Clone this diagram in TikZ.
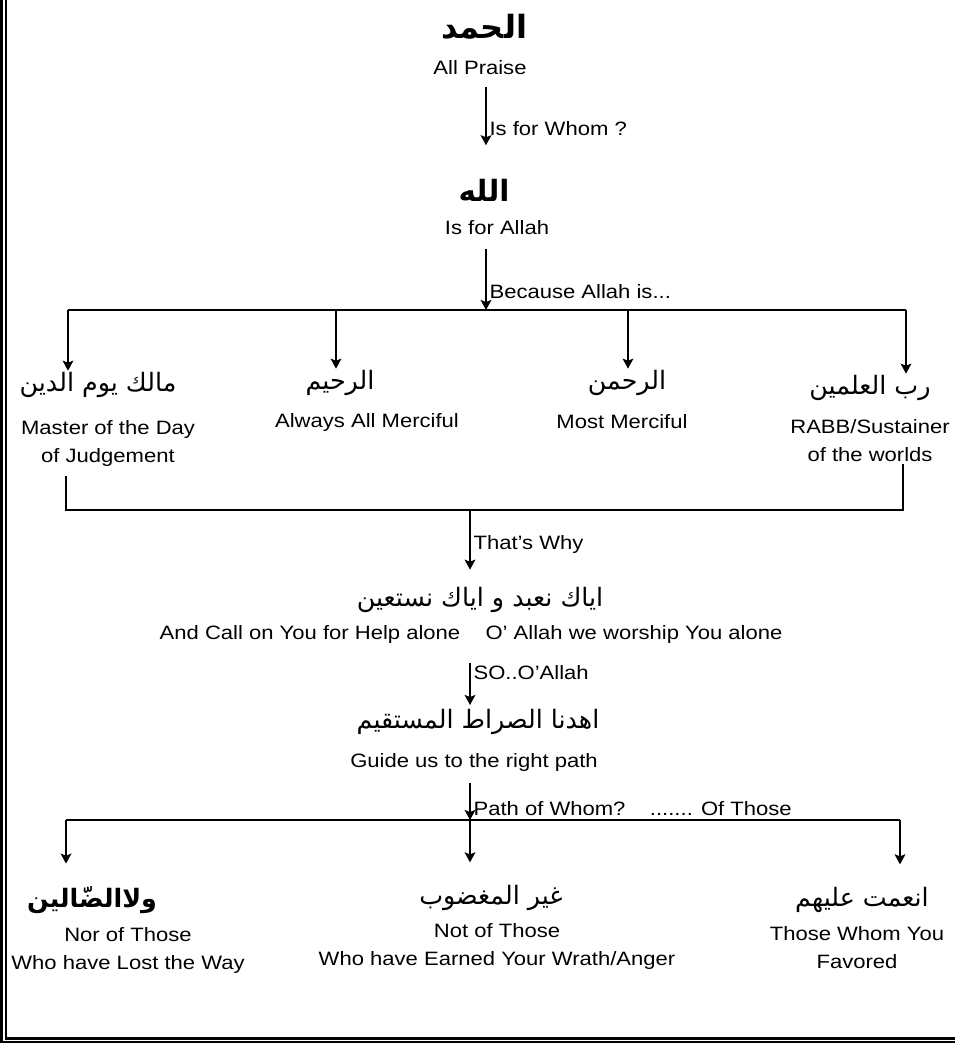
\documentclass[tikz,border=0pt]{standalone}
\usepackage{fontspec}
\usetikzlibrary{arrows.meta}
\setmainfont{Liberation Sans}[FakeStretch=1.14]
\newfontfamily\arabicfont[Script=Arabic]{DejaVu Sans}
\TeXXeTstate=1
\tikzset{
  gloss/.style={font=\fontsize{14.5}{21}\selectfont, inner sep=1pt, align=center},
  arab/.style={font=\arabicfont\fontsize{19}{22}\selectfont, inner sep=1pt},
  arabbig/.style={font=\arabicfont\bfseries\fontsize{24}{28}\selectfont, inner sep=1pt},
  lbl/.style={font=\fontsize{14.5}{17}\selectfont, inner sep=2pt},
  link/.style={->, line width=1.4pt},
  bar/.style={line width=1.4pt}
}
\begin{document}
\begin{tikzpicture}[x=0.75pt, y=-0.75pt, >={Stealth[length=7.5pt, width=8pt, inset=1.5pt]}]
\useasboundingbox (0,0) rectangle (955,1043);

% frame
\draw[line width=2pt] (1.3,0) -- (1.3,1042.3) -- (955,1042.3);
\draw[line width=1.6pt] (5.7,0) -- (5.7,1038.5) -- (955,1038.5);

% stems and bars
\coordinate (up) at (486,0);
\coordinate (low) at (470,0);
\coordinate (barA) at (68,310);
\coordinate (barB) at (906,310);
\coordinate (brL) at (66,510);
\coordinate (brR) at (903,510);
\coordinate (barC) at (66,820);
\coordinate (barD) at (900,820);

% praise
\node[arabbig] (hamd) at (484,27) {\beginR الحمد\endR};
\node[gloss] (praise) at (480,68) {All Praise};
\node[arabbig, font=\arabicfont\bfseries\fontsize{22}{26}\selectfont] (allah) at (484,190) {\beginR الله\endR};
\node[gloss] (allahEn) at (497,228) {Is for Allah};

\draw[link, shorten <=8pt, shorten >=24pt] (praise.south -| up) -- (allah.north -| up)
  node[lbl, pos=.52, right] (whom) {Is for Whom ?};
\draw[link, shorten <=9pt] (allahEn.south -| up) -- (up |- barA)
  node[lbl, pos=.75, right] (because) {Because Allah is...};
\draw[bar] (barA) -- (barB);

% names
\node[arab] (n1) at (98,385) {\beginR مالك يوم الدين\endR};
\node[arab] (n2) at (340,383) {\beginR الرحيم\endR};
\node[arab] (n3) at (627,383) {\beginR الرحمن\endR};
\node[arab] (n4) at (870,388) {\beginR رب العلمين\endR};
\node[gloss] (e1) at (108,443) {Master of the Day\\of Judgement};
\node[gloss] (e2) at (367,422) {Always All Merciful};
\node[gloss] (e3) at (622,422) {Most Merciful};
\node[gloss] (e4) at (870,441) {RABB/Sustainer\\of the worlds};

\foreach \x [count=\i] in {68,336,628,906} {
  \coordinate (b\i) at (\x,310);
  \draw[link] (b\i) -- (b\i |- n\i.north);
}

% that's why
\draw[bar, shorten <=6pt] (e1.south -| brL) -- (brL) -- (brR) -- (e4.south -| brR);
\node[arab] (iyyaka) at (480,600) {\beginR اياك نعبد و اياك نستعين\endR};
\node[gloss] (callEn) at (310,634) {And Call on You for Help alone};
\node[gloss] (worshipEn) at (634,634) {O' Allah we worship You alone};
\draw[link, shorten >=12pt] (low |- brL) -- (low |- iyyaka.north)
  node[lbl, pos=.45, right] (why) {That's Why};

% guide
\node[arab] (ihdina) at (478,722) {\beginR اهدنا الصراط المستقيم\endR};
\node[gloss] (guide) at (474,762) {Guide us to the right path};
\draw[link, shorten <=14pt, shorten >=2pt] (low |- worshipEn.south) -- (low |- ihdina.north)
  node[lbl, pos=.45, right] (so) {SO..O'Allah};
\draw[link, shorten <=8pt] (low |- guide.south) -- (low |- barC)
  node[lbl, pos=.75, right] (pathof) {Path of Whom?\ \ \ \ ....... Of Those};
\draw[bar] (barC) -- (barD);

% those
\node[arab, font=\arabicfont\bfseries\fontsize{19}{22}\selectfont] (m1) at (92,900) {\beginR ولاالضّالين\endR};
\node[arab] (m2) at (491,898) {\beginR غير المغضوب\endR};
\node[arab] (m3) at (862,900) {\beginR انعمت عليهم\endR};
\node[gloss] (f1) at (128,950) {Nor of Those\\Who have Lost the Way};
\node[gloss] (f2) at (497,946) {Not of Those\\Who have Earned Your Wrath/Anger};
\node[gloss] (f3) at (857,948) {Those Whom You\\Favored};

\foreach \x [count=\i] in {66,470,900} {
  \coordinate (c\i) at (\x,820);
  \draw[link, shorten >=16pt] (c\i) -- (c\i |- m\i.north);
}
\end{tikzpicture}
\end{document}
